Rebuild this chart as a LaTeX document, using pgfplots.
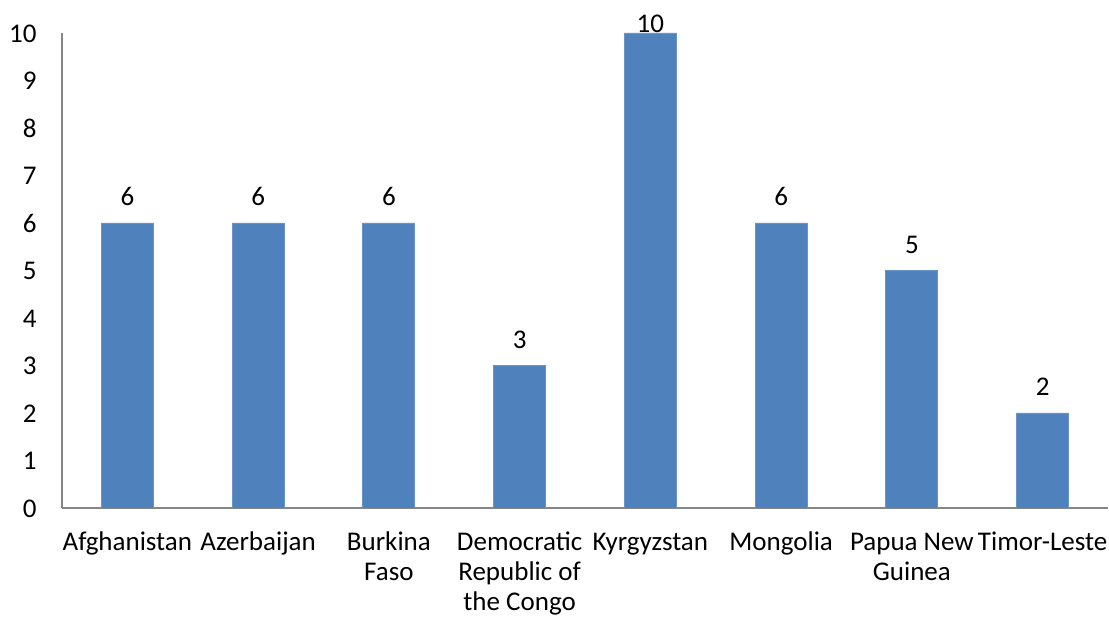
\documentclass[border=0pt]{standalone}
\usepackage{pgfplots}
\pgfplotsset{compat=1.18}
\usepackage{fontspec}
\setmainfont{Carlito}
\definecolor{barblue}{HTML}{4F81BD}
\definecolor{axisgray}{HTML}{868686}
\begin{document}
\fontsize{13.5}{15}\selectfont
\begin{tikzpicture}
\path[use as bounding box] (-31pt,-55.5pt) rectangle (523.5pt,254pt);
% anchor=origin is data (0,0), i.e. the first bar centre, half a step right of xmin
\begin{axis}[
  at={(32.6875pt,0)}, anchor=origin,
  scale only axis, width=523pt, height=237.5pt,
  ybar, bar width=26pt,
  xmin=-0.5, xmax=7.5, ymin=0, ymax=10,
  xtick=data,
  xticklabels={Afghanistan, Azerbaijan, Burkina\\Faso, Democratic\\Republic of\\the Congo, Kyrgyzstan, Mongolia, Papua New\\Guinea, Timor-Leste},
  typeset ticklabels with strut,
  xticklabel style={align=center, font=\fontsize{13.5}{15}\selectfont, anchor=north, yshift=-6pt},
  ytick={0,1,...,10},
  yticklabel style={font=\fontsize{13.5}{15}\selectfont, xshift=-8pt, yshift=-1.7pt},
  /pgf/number format/assume math mode=true,
  major tick length=0pt,
  axis x line*=bottom, axis y line*=left,
  axis line style={axisgray, line width=0.8pt},
  separate axis lines,
  nodes near coords,
  visualization depends on={y \as \yval},
  every node near coord/.append style={font=\fontsize{13.5}{15}\selectfont, anchor=base, yshift={ifthenelse(\yval>9.5,-8.5,0)}},
  nodes near coords style={yshift=8.5pt},
]
\addplot[fill=barblue, draw=barblue!85!white] coordinates {(0,6) (1,6) (2,6) (3,3) (4,10) (5,6) (6,5) (7,2)};
\end{axis}
\end{tikzpicture}
\end{document}
